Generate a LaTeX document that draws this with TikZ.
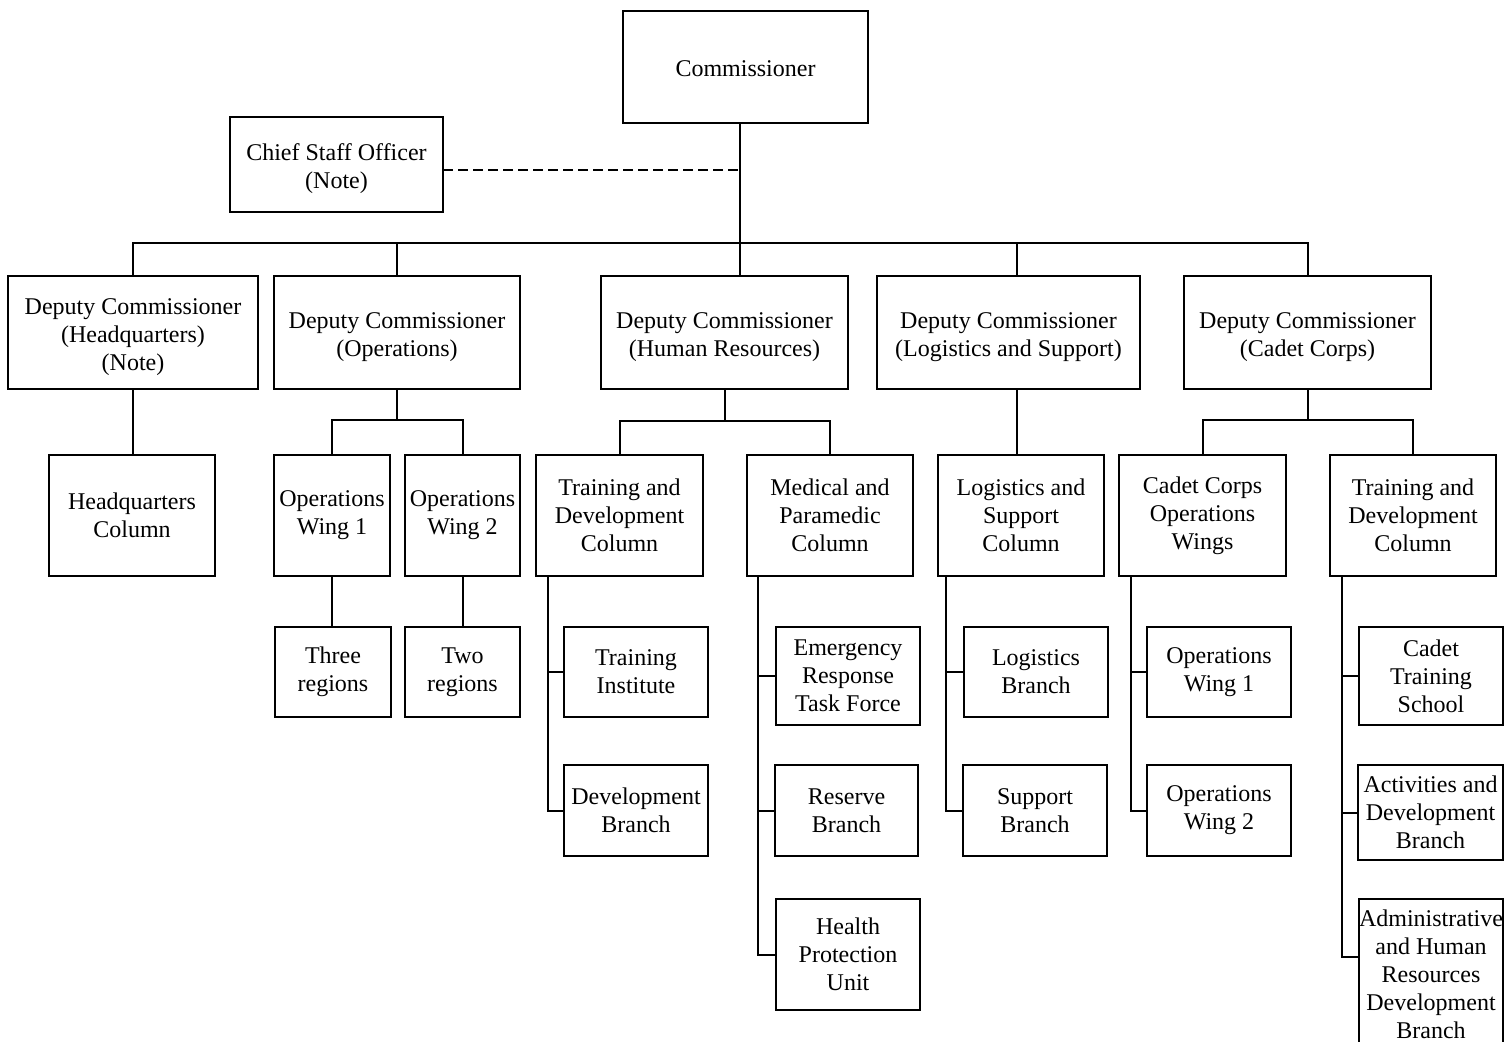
\documentclass[tikz,border=0pt]{standalone}
\usepackage{fontspec}
\setmainfont{Liberation Serif}
\newcommand\orgbox[6]{\node[box, minimum width={(#4-#2)*0.5pt}, minimum height={(#5-#3)*0.5pt}] (#1) at ({(#2+#4)/2},{(#3+#5)/2}) {#6};}
\newcommand\orgboxlow[6]{\node[box, minimum width={(#4-#2)*0.5pt}, minimum height={(#5-#3)*0.5pt}] (#1) at ({(#2+#4)/2},{(#3+#5)/2}) {\raisebox{-2pt}[\height][\depth]{\begin{tabular}{@{}c@{}}#6\end{tabular}}};}
\begin{document}
\begin{tikzpicture}[x=0.5pt,y=-0.5pt,
  box/.style={draw, line width=1pt, inner sep=0pt, outer sep=0pt, align=center, font=\fontsize{12}{14}\selectfont},
  conn/.style={line width=1pt},
  dashconn/.style={line width=1pt, dash pattern=on 5pt off 2.5pt}]
\useasboundingbox (0,0) rectangle (1510,1041);
% level 1
\orgboxlow{comm}{623}{11}{868}{123}{Commissioner}
\orgboxlow{cso}{230}{117}{443}{212}{Chief Staff Officer\\(Note)}
% level 2
\orgboxlow{dchq}{8}{276}{258}{389}{Deputy Commissioner\\(Headquarters)\\(Note)}
\orgboxlow{dcops}{274}{276}{520}{389}{Deputy Commissioner\\(Operations)}
\orgboxlow{dchr}{601}{276}{848}{389}{Deputy Commissioner\\(Human Resources)}
\orgboxlow{dclog}{877}{276}{1140}{389}{Deputy Commissioner\\(Logistics and Support)}
\orgboxlow{dccad}{1184}{276}{1431}{389}{Deputy Commissioner\\(Cadet Corps)}
% level 3
\orgbox{hqcol}{49}{455}{215}{576}{Headquarters\\Column}
\orgbox{opw1}{274}{455}{390}{576}{Operations\\Wing 1}
\orgbox{opw2}{405}{455}{520}{576}{Operations\\Wing 2}
\orgbox{tdcol}{536}{455}{703}{576}{Training and\\Development\\Column}
\orgbox{medcol}{747}{455}{913}{576}{Medical and\\Paramedic\\Column}
\orgbox{logcol}{938}{455}{1104}{576}{Logistics and\\Support\\Column}
\orgbox{ccow}{1119}{455}{1286}{576}{Cadet Corps\\Operations\\Wings}
\orgbox{tdc2}{1330}{455}{1496}{576}{Training and\\Development\\Column}
% level 4
\orgbox{three}{275}{627}{391}{717}{Three\\regions}
\orgbox{two}{405}{627}{520}{717}{Two\\regions}
\orgbox{trinst}{564}{627}{708}{717}{Training\\Institute}
\orgbox{devbr}{564}{765}{708}{856}{Development\\Branch}
\orgbox{ertf}{776}{627}{920}{725}{Emergency\\Response\\Task Force}
\orgbox{resbr}{775}{765}{918}{856}{Reserve\\Branch}
\orgbox{hpu}{776}{899}{920}{1010}{Health\\Protection\\Unit}
\orgbox{logbr}{964}{627}{1108}{717}{Logistics\\Branch}
\orgbox{supbr}{963}{765}{1107}{856}{Support\\Branch}
\orgbox{cow1}{1147}{627}{1291}{717}{Operations\\Wing 1}
\orgbox{cow2}{1147}{765}{1291}{856}{Operations\\Wing 2}
\orgbox{cts}{1359}{627}{1503}{725}{Cadet\\Training\\School}
\orgbox{adb}{1358}{765}{1503}{860}{Activities and\\Development\\Branch}
\orgbox{ahr}{1359}{899}{1503}{1050}{Administrative\\and Human\\Resources\\Development\\Branch}
% top connectors
\coordinate (b0) at (740,243);
\draw[conn] (comm.south -| b0) -- (b0 |- dchr.north);
\draw[conn] (dchq.north) |- (dccad.north |- b0) -- (dccad.north);
\draw[conn] (dcops.north) -- (dcops.north |- b0);
\coordinate (lx) at (1017,0);
\draw[conn] (lx |- b0) -- (lx |- dclog.north);
\draw[conn] (lx |- dclog.south) -- (lx |- logcol.north);
\coordinate (dsh) at ([yshift=-2.75pt]cso.east);
\draw[dashconn] (dsh) -- (dsh -| b0);
% level 3 connectors
\draw[conn] (dchq.south) -- (dchq.south |- hqcol.north);
\coordinate (ob) at (397,420);
\draw[conn] (ob |- dcops.south) -- (ob);
\draw[conn] (opw1.north) |- (ob) -| (opw2.north);
\draw[conn] (opw1.south) -- (opw1.south |- three.north);
\draw[conn] (opw2.south) -- (opw2.south |- two.north);
\coordinate (hb) at (725,421);
\draw[conn] (hb |- dchr.south) -- (hb);
\draw[conn] (tdcol.north) |- (hb) -| (medcol.north);
\coordinate (cb) at (1308,420);
\draw[conn] (cb |- dccad.south) -- (cb);
\draw[conn] (ccow.north) |- (cb) -| (tdc2.north);
% level 4 connectors
\coordinate (v1) at (548,0);
\draw[conn] (v1 |- tdcol.south) |- (devbr.west);
\draw[conn] (v1 |- trinst.west) -- (trinst.west);
\coordinate (v2) at (758,0);
\draw[conn] (v2 |- medcol.south) |- (hpu.west);
\draw[conn] (v2 |- ertf.west) -- (ertf.west);
\draw[conn] (v2 |- resbr.west) -- (resbr.west);
\coordinate (v3) at (946,0);
\draw[conn] (v3 |- logcol.south) |- (supbr.west);
\draw[conn] (v3 |- logbr.west) -- (logbr.west);
\coordinate (v4) at (1131,0);
\draw[conn] (v4 |- ccow.south) |- (cow2.west);
\draw[conn] (v4 |- cow1.west) -- (cow1.west);
\coordinate (v5) at (1342,0);
\coordinate (ahrc) at ([yshift=-29pt]ahr.north west);
\draw[conn] (v5 |- tdc2.south) |- (ahrc);
\draw[conn] (v5 |- cts.west) -- (cts.west);
\draw[conn] (v5 |- adb.west) -- (adb.west);
\end{tikzpicture}
\end{document}
